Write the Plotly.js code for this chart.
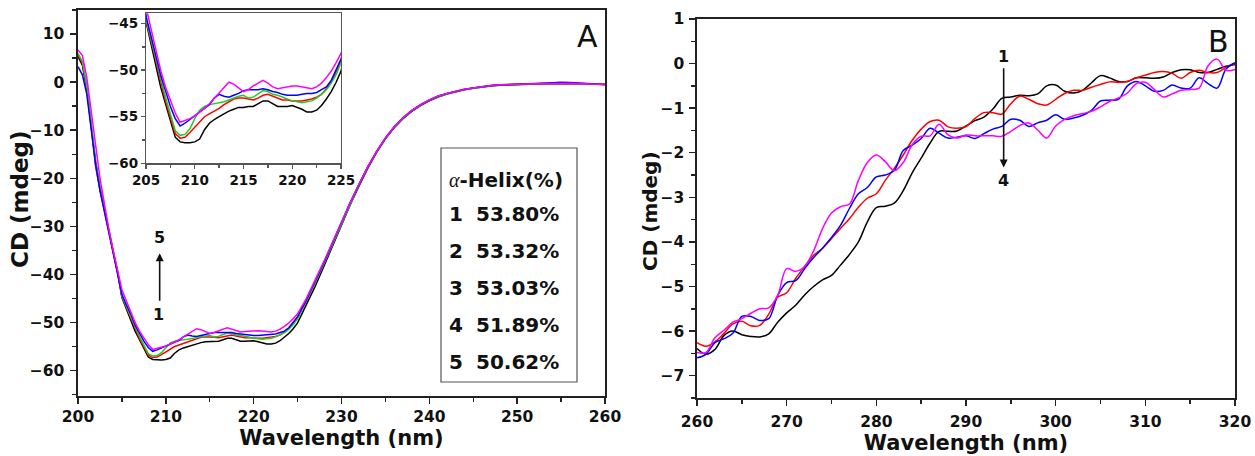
<!DOCTYPE html>
<html><head><meta charset="utf-8">
<script src="https://cdn.plot.ly/plotly-3.0.1.min.js"></script>
<style>html,body{margin:0;padding:0;background:#fff}#chart{width:1255px;height:456px}</style>
</head><body><div id="chart"></div>
<script>
// ---------- Panel A data (far-UV CD) ----------
const wlA = [200,200.5,201,201.5,202,202.5,203,203.5,204,204.5,
205,205.5,206,206.5,207,207.5,208,208.5,209,209.5,210,210.5,211,211.5,212,212.5,213,213.5,214,214.5,
215,215.5,216,216.5,217,217.5,218,218.5,219,219.5,220,220.5,221,221.5,222,222.5,223,223.5,224,224.5,225,
226,227,228,229,230,231,232,233,234,235,236,237,238,239,240,241,242,243,244,245,246,247,248,249,250,
251,252,253,254,255,256,257,258,259,260];
const cdA1 = [5.3,3.5,-1.5,-8.5,-16.5,-22,-26.5,-31,-35.5,-39.5,
-44.8,-47.2,-49.3,-51.8,-53.6,-55.4,-57.2,-57.7,-57.8,-57.8,-57.7,-57.4,-56.4,-55.7,-55.3,-55.0,-54.7,-54.4,-54.2,-54.0,
-54.0,-53.9,-53.9,-53.6,-53.3,-53.3,-53.6,-53.9,-53.9,-53.9,-53.8,-54.0,-54.2,-54.5,-54.5,-54.3,-53.8,-53.1,-52.3,-51.3,-50.1,
-46.3,-42.5,-38.3,-34.0,-29.7,-25.5,-21.6,-17.9,-14.6,-11.8,-9.5,-7.6,-6.1,-4.9,-3.9,-3.1,-2.5,-2.0,-1.6,-1.3,-1.0,-0.8,-0.65,-0.55,-0.5,
-0.45,-0.4,-0.35,-0.3,-0.3,-0.3,-0.35,-0.4,-0.45,-0.5];
const cdA2 = [5.7,4.0,-1.0,-9.0,-17.5,-22.5,-26.5,-31,-35.3,-39.5,
-44.6,-46.8,-49.0,-51.3,-53.3,-55.1,-56.8,-57.3,-57.2,-56.7,-56.1,-55.5,-55.0,-54.7,-54.4,-54.1,-53.7,-53.4,-53.1,-53.0,
-53.0,-53.1,-53.2,-53.0,-52.7,-52.6,-52.8,-53.0,-53.2,-53.2,-53.3,-53.3,-53.3,-53.2,-53.1,-52.9,-52.6,-52.0,-51.2,-50.2,-49.0,
-45.5,-41.7,-37.7,-33.5,-29.3,-25.2,-21.3,-17.7,-14.5,-11.7,-9.4,-7.5,-6.0,-4.8,-3.8,-3.0,-2.4,-1.95,-1.55,-1.25,-0.95,-0.75,-0.6,-0.5,-0.45,
-0.4,-0.35,-0.3,-0.28,-0.25,-0.28,-0.32,-0.38,-0.42,-0.48];
const cdA3 = [6.0,4.3,-0.8,-8.5,-16.5,-22,-26.3,-30.8,-35.3,-39.3,
-44.5,-46.6,-48.6,-51.0,-52.9,-54.7,-56.5,-57.0,-56.9,-56.3,-55.2,-54.3,-53.9,-53.7,-53.6,-53.5,-53.4,-53.2,-53.0,-52.8,
-52.7,-53.0,-52.9,-52.5,-52.2,-52.3,-52.6,-52.7,-52.9,-53.1,-53.3,-53.4,-53.5,-53.4,-53.3,-53.0,-52.6,-52.1,-51.4,-50.5,-49.2,
-45.6,-41.8,-37.8,-33.6,-29.4,-25.2,-21.3,-17.7,-14.5,-11.7,-9.4,-7.5,-6.0,-4.8,-3.8,-3.0,-2.4,-1.95,-1.55,-1.25,-0.95,-0.75,-0.6,-0.5,-0.42,
-0.38,-0.32,-0.28,-0.25,-0.22,-0.25,-0.3,-0.36,-0.42,-0.46];
const cdA4 = [3.2,1.5,-2.5,-9.5,-17,-22.5,-26.8,-31,-35.3,-39.3,
-44.2,-46.3,-48.2,-50.5,-52.2,-53.9,-55.2,-56.0,-55.7,-55.3,-54.9,-54.6,-54.2,-53.7,-53.0,-52.6,-52.8,-52.9,-52.7,-52.5,
-52.2,-52.1,-52.1,-52.1,-52.0,-52.1,-52.3,-52.4,-52.6,-52.7,-52.7,-52.7,-52.6,-52.5,-52.5,-52.4,-52.1,-51.8,-51.1,-50.0,-48.8,
-45.3,-41.5,-37.5,-33.3,-29.1,-25.0,-21.2,-17.6,-14.4,-11.6,-9.3,-7.4,-5.9,-4.7,-3.7,-2.9,-2.35,-1.9,-1.5,-1.2,-0.9,-0.7,-0.55,-0.45,-0.4,
-0.35,-0.3,-0.22,-0.12,-0.05,-0.08,-0.2,-0.3,-0.4,-0.48];
const cdA5 = [6.7,5.5,1.0,-5.5,-13,-20,-25.5,-30.5,-35,-38.8,
-43.2,-45.5,-47.8,-50.0,-51.8,-53.3,-54.6,-55.6,-55.4,-55.2,-54.9,-54.5,-54.1,-53.6,-53.0,-52.4,-51.9,-51.3,-51.5,-51.9,
-52.3,-52.1,-51.7,-51.4,-51.1,-51.4,-51.8,-52.0,-51.9,-51.8,-51.7,-51.7,-51.8,-51.9,-52.0,-51.8,-51.4,-50.8,-50.1,-49.2,-48.2,
-45.0,-41.3,-37.3,-33.2,-29.0,-25.0,-21.2,-17.6,-14.4,-11.6,-9.3,-7.4,-5.9,-4.7,-3.7,-2.9,-2.35,-1.9,-1.5,-1.2,-0.9,-0.7,-0.55,-0.45,-0.42,
-0.38,-0.33,-0.28,-0.25,-0.2,-0.22,-0.3,-0.36,-0.42,-0.48];
const helixLabels = ["1","2","3","4","5"];
const helixValues = ["53.80%","53.32%","53.03%","51.89%","50.62%"];

// ---------- Panel B data (near-UV CD) ----------
const wlB = [260,261,262,263,264,265,266,267,268,269,270,271,272,273,274,275,276,277,278,279,
280,281,282,283,284,285,286,287,288,289,290,291,292,293,294,295,296,297,298,299,
300,301,302,303,304,305,306,307,308,309,310,311,312,313,314,315,316,317,318,319,320];
const cdB1 = [-6.39,-6.52,-6.41,-6.1,-6.0,-6.08,-6.12,-6.13,-6.06,-5.8,
-5.59,-5.42,-5.19,-5.0,-4.85,-4.75,-4.52,-4.28,-4.0,-3.55,
-3.23,-3.2,-3.13,-2.85,-2.45,-2.12,-1.78,-1.52,-1.52,-1.51,
-1.4,-1.28,-1.2,-1.02,-0.78,-0.75,-0.71,-0.72,-0.68,-0.5,
-0.48,-0.62,-0.66,-0.6,-0.43,-0.27,-0.32,-0.4,-0.4,-0.32,
-0.32,-0.33,-0.3,-0.2,-0.14,-0.14,-0.2,-0.2,-0.13,-0.06,-0.02];
const cdB2 = [-6.26,-6.34,-6.24,-6.05,-5.84,-5.78,-5.88,-5.87,-5.62,-5.24,
-5.14,-4.82,-4.55,-4.3,-4.14,-3.92,-3.7,-3.48,-3.22,-3.02,
-2.92,-2.62,-2.35,-2.05,-1.72,-1.47,-1.3,-1.27,-1.42,-1.45,
-1.41,-1.23,-1.1,-1.1,-1.13,-0.9,-0.73,-0.8,-0.9,-0.93,
-0.8,-0.67,-0.6,-0.6,-0.53,-0.47,-0.41,-0.42,-0.4,-0.32,
-0.26,-0.2,-0.18,-0.22,-0.33,-0.2,-0.15,-0.2,-0.2,-0.08,0.0];
const cdB3 = [-6.60,-6.52,-6.26,-6.17,-6.05,-5.67,-5.67,-5.76,-5.72,-5.2,
-4.91,-4.87,-4.6,-4.35,-4.14,-3.9,-3.63,-3.25,-2.92,-2.78,
-2.54,-2.5,-2.4,-1.95,-1.83,-1.68,-1.45,-1.56,-1.67,-1.65,
-1.62,-1.68,-1.57,-1.47,-1.41,-1.25,-1.27,-1.41,-1.33,-1.27,
-1.15,-1.25,-1.22,-1.16,-1.05,-0.84,-0.82,-0.8,-0.5,-0.4,
-0.5,-0.62,-0.6,-0.48,-0.55,-0.55,-0.32,-0.45,-0.55,-0.12,0.02];
const cdB4 = [-6.48,-6.48,-6.15,-5.98,-5.8,-5.72,-5.6,-5.5,-5.48,-5.2,
-4.6,-4.66,-4.55,-4.2,-3.7,-3.35,-3.21,-3.15,-2.62,-2.22,
-2.05,-2.2,-2.4,-2.22,-1.82,-1.63,-1.62,-1.36,-1.6,-1.67,
-1.6,-1.62,-1.62,-1.62,-1.63,-1.52,-1.39,-1.33,-1.49,-1.67,
-1.4,-1.25,-1.17,-1.12,-1.07,-0.97,-0.85,-0.77,-0.66,-0.45,
-0.42,-0.58,-0.75,-0.68,-0.6,-0.58,-0.55,-0.05,0.1,-0.15,-0.13];

const colA = ['#000000','#ff0000','#22cc22','#0000ff','#ff00ff'];
const colB = ['#000000','#ff0000','#0000ff','#ff00ff'];

// ---------- layout helpers ----------
const W = 1255, H = 456;
const px = x => x / W;
const py = y => 1 - y / H;
const FONT = 'DejaVu Sans, Liberation Sans, Arial, sans-serif';

const seriesA = [cdA1, cdA2, cdA3, cdA4, cdA5];
const seriesB = [cdB1, cdB2, cdB3, cdB4];
const traces = [];
seriesA.forEach((s, i) => traces.push({x: wlA, y: s, type: 'scatter', mode: 'lines', xaxis: 'x', yaxis: 'y',
  line: {color: colA[i], width: 1.5}, showlegend: false, hoverinfo: 'skip'}));
seriesA.forEach((s, i) => traces.push({x: wlA, y: s, type: 'scatter', mode: 'lines', xaxis: 'x3', yaxis: 'y3',
  line: {color: colA[i], width: 1.5}, showlegend: false, hoverinfo: 'skip'}));
seriesB.forEach((s, i) => traces.push({x: wlB, y: s, type: 'scatter', mode: 'lines', xaxis: 'x2', yaxis: 'y2',
  line: {color: colB[i], width: 1.5, shape: 'spline', smoothing: 1}, showlegend: false, hoverinfo: 'skip'}));

const tickF = {family: FONT, size: 15.5, color: '#111', weight: 'bold'};
const titleF = {family: FONT, size: 21, color: '#111', weight: 'bold'};
function axis(extra) {
  return Object.assign({
    showgrid: false, zeroline: false, showline: true, mirror: true,
    linecolor: '#222', linewidth: 1.6, ticks: 'outside', ticklen: 6, tickwidth: 1.4, tickcolor: '#222',
    tickfont: tickF, automargin: false
  }, extra);
}

const annotations = [];
// y-axis titles
annotations.push({xref: 'paper', yref: 'paper', x: px(20), y: py(199), text: 'CD (mdeg)', textangle: -90,
  showarrow: false, font: {family: FONT, size: 23, color: '#111', weight: 'bold'}, xanchor: 'center', yanchor: 'middle'});
annotations.push({xref: 'paper', yref: 'paper', x: px(650), y: py(211), text: 'CD (mdeg)', textangle: -90,
  showarrow: false, font: {family: FONT, size: 20, color: '#111', weight: 'bold'}, xanchor: 'center', yanchor: 'middle'});
// panel letters
annotations.push({xref: 'paper', yref: 'paper', x: px(587), y: py(36), text: 'A', showarrow: false,
  font: {family: FONT, size: 30, color: '#111'}, xanchor: 'center', yanchor: 'middle'});
annotations.push({xref: 'paper', yref: 'paper', x: px(1218), y: py(42), text: 'B', showarrow: false,
  font: {family: FONT, size: 30, color: '#111'}, xanchor: 'center', yanchor: 'middle'});
// helix table
annotations.push({xref: 'paper', yref: 'paper', x: px(447), y: py(180),
  text: '<i><span style="font-family:Liberation Serif;font-weight:normal">α</span></i>-Helix(%)', showarrow: false,
  font: {family: FONT, size: 20, color: '#111', weight: 'bold'}, xanchor: 'left', yanchor: 'middle'});
const rowY = [214, 251, 288, 325, 362];
helixLabels.forEach((lab, i) => {
  annotations.push({xref: 'paper', yref: 'paper', x: px(447), y: py(rowY[i]), text: lab, showarrow: false,
    font: {family: FONT, size: 20, color: '#111', weight: 'bold'}, xanchor: 'left', yanchor: 'middle'});
  annotations.push({xref: 'paper', yref: 'paper', x: px(474), y: py(rowY[i]), text: helixValues[i], showarrow: false,
    font: {family: FONT, size: 20, color: '#111', weight: 'bold'}, xanchor: 'left', yanchor: 'middle'});
});
// arrows
const arrowF = {family: FONT, size: 16, color: '#111', weight: 'bold'};
annotations.push({xref: 'x', yref: 'y', axref: 'x', ayref: 'y', x: 209.3, y: -35.6, ax: 209.3, ay: -45.8, text: '',
  showarrow: true, arrowhead: 2, arrowsize: 1, arrowwidth: 1.6, arrowcolor: '#111'});
annotations.push({xref: 'x', yref: 'y', x: 209.3, y: -32.4, text: '5', showarrow: false, font: arrowF});
annotations.push({xref: 'x', yref: 'y', x: 209.2, y: -48.4, text: '1', showarrow: false, font: arrowF});
annotations.push({xref: 'x2', yref: 'y2', axref: 'x2', ayref: 'y2', x: 294.2, y: -2.33, ax: 294.2, ay: -0.07, text: '',
  showarrow: true, arrowhead: 2, arrowsize: 1, arrowwidth: 1.6, arrowcolor: '#111'});
annotations.push({xref: 'x2', yref: 'y2', x: 294.2, y: 0.16, text: '1', showarrow: false, font: arrowF});
annotations.push({xref: 'x2', yref: 'y2', x: 294.2, y: -2.62, text: '4', showarrow: false, font: arrowF});

const layout = {
  width: W, height: H, margin: {l: 0, r: 0, t: 0, b: 0},
  paper_bgcolor: '#ffffff', plot_bgcolor: '#ffffff', showlegend: false,
  xaxis: axis({domain: [px(78), px(605)], anchor: 'y', range: [200, 260], dtick: 10, tick0: 200,
    minor: {dtick: 5, ticks: 'outside', ticklen: 4, tickcolor: '#222'},
    title: {text: 'Wavelength (nm)', font: titleF, standoff: 2}}),
  yaxis: axis({domain: [py(396), py(10)], anchor: 'x', range: [-65.3, 15], dtick: 10, tick0: 0,
    ticklabelstandoff: 3,
    minor: {dtick: 5, ticks: 'outside', ticklen: 4, tickcolor: '#222'}}),
  xaxis2: axis({domain: [px(697), px(1235)], anchor: 'y2', range: [260, 320], dtick: 10, tick0: 260,
    ticklabelstandoff: 3,
    minor: {dtick: 5, ticks: 'outside', ticklen: 4, tickcolor: '#222'},
    title: {text: 'Wavelength (nm)', font: titleF, standoff: 0}}),
  yaxis2: axis({domain: [py(398), py(19)], anchor: 'x2', range: [-7.5, 1], dtick: 1, tick0: 0,
    ticklabelstandoff: 2,
    minor: {dtick: 0.5, ticks: 'outside', ticklen: 4, tickcolor: '#222'}}),
  xaxis3: axis({domain: [px(146), px(341)], anchor: 'y3', range: [205, 225], dtick: 5, tick0: 205,
    linecolor: '#555', linewidth: 1.2, tickcolor: '#555', ticklen: 4,
    minor: {dtick: 2.5, ticks: 'outside', ticklen: 3, tickcolor: '#555'},
    tickfont: {family: FONT, size: 13.5, color: '#111', weight: 'bold'}}),
  yaxis3: axis({domain: [py(163.3), py(13.3)], anchor: 'x3', range: [-60, -43.9], dtick: 5, tick0: -60,
    linecolor: '#555', linewidth: 1.2, tickcolor: '#555', ticklen: 4,
    minor: {dtick: 2.5, ticks: 'outside', ticklen: 3, tickcolor: '#555'},
    tickfont: {family: FONT, size: 13.5, color: '#111', weight: 'bold'}}),
  shapes: [
    {type: 'rect', xref: 'paper', yref: 'paper', x0: px(441), x1: px(577), y0: py(382), y1: py(148),
      line: {color: '#555', width: 1.2}, fillcolor: 'rgba(0,0,0,0)', layer: 'above'}
  ],
  annotations: annotations
};

Plotly.newPlot('chart', traces, layout, {staticPlot: true, displayModeBar: false});
</script>
</body></html>
